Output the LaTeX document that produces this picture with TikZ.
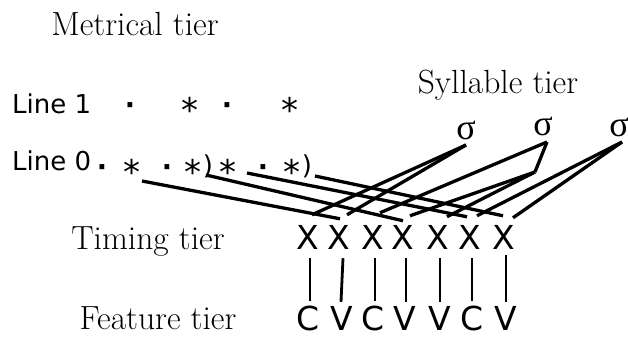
\documentclass[tikz,border=0pt]{standalone}
\usepackage{fontspec}
\newfontfamily\sansf{DejaVu Sans}
\newfontfamily\grk{Liberation Serif}
\usetikzlibrary{calc}
\begin{document}
\begin{tikzpicture}[x=1pt,y=-1pt,
  lbl/.style={inner sep=0pt, anchor=base, font=\fontsize{33.5}{40}\selectfont},
  gl/.style={inner sep=0pt, font=\sansf\fontsize{26}{30}\selectfont},
  pnt/.style={inner sep=0pt, anchor=base, font=\sansf\bfseries\fontsize{27}{30}\selectfont},
  astr/.style={inner sep=0pt, anchor=base, font=\sansf\fontsize{34}{38}\selectfont},
  seg/.style={inner sep=0pt, font=\sansf\fontsize{33}{38}\selectfont},
  sig/.style={inner sep=0pt, font=\grk\fontsize{36}{40}\selectfont},
  link/.style={line width=3.3pt},
  bar/.style={line width=2.8pt}]
\useasboundingbox (0,0) rectangle (628,337);
% tier labels
\node[lbl] (met) at (135,36) {Metrical tier};
\node[lbl] (syl) at (498,93) {Syllable tier};
\node[lbl] (tim) at (148,249) {Timing tier};
\node[lbl] (fea) at (158,329) {Feature tier};
% metrical grid
\node[gl, anchor=base west] (l1) at (12,113) {Line 1};
\node[gl, anchor=base west] (l0) at (12,170) {Line 0};
\node[pnt] (d11) at (130,114) {·};
\node[astr] (s11) at (190,122) {*};
\node[pnt] (d12) at (227,114) {·};
\node[astr] (s12) at (290,122) {*};
\node[pnt] (d01) at (102,176) {·};
\node[astr] (s01) at (132,184) {*};
\node[pnt] (d02) at (167,176) {·};
\node[astr] (s02) at (193,184) {*};
\node[gl, anchor=base] (p01) at (208,174) {)};
\node[astr] (s03) at (228,184) {*};
\node[pnt] (d03) at (263,176) {·};
\node[astr] (s04) at (292,184) {*};
\node[gl, anchor=base] (p02) at (307,174) {)};
% syllables
\node[sig] (sg1) at (466,130) {σ};
\node[sig] (sg2) at (543,126) {σ};
\node[sig] (sg3) at (619,127) {σ};
% timing slots
\node[seg] (x1) at (308,237) {X};
\node[seg] (x2) at (339,237) {X};
\node[seg] (x3) at (373,237) {X};
\node[seg] (x4) at (403,237) {X};
\node[seg] (x5) at (438,237) {X};
\node[seg] (x6) at (470,237) {X};
\node[seg] (x7) at (504,237) {X};
% features
\node[seg] (f1) at (308,318) {C};
\node[seg] (f2) at (342,318) {V};
\node[seg] (f3) at (373,318) {C};
\node[seg] (f4) at (405,318) {V};
\node[seg] (f5) at (440,318) {V};
\node[seg] (f6) at (472,318) {C};
\node[seg] (f7) at (506,318) {V};
% association bars
\draw[bar] ($(x1.south)+(2,9)$) -- ($(f1.north)+(2,-4)$);
\draw[bar] ($(x2.south)+(4,9)$) -- ($(f2.north)+(-1,-4)$);
\draw[bar] ($(x3.south)+(2,9)$) -- ($(f3.north)+(2,-4)$);
\draw[bar] ($(x4.south)+(3,9)$) -- ($(f4.north)+(1,-4)$);
\draw[bar] ($(x5.south)+(2,9)$) -- ($(f5.north)+(0,-4)$);
\draw[bar] ($(x6.south)+(2,9)$) -- ($(f6.north)+(0,-4)$);
\draw[bar] ($(x7.south)+(2,6)$) -- ($(f7.north)+(0,-4)$);
% free ends
\coordinate (a1) at ($(sg1.center)+(0,15)$);
\coordinate (a2) at ($(sg2.center)+(4,16)$);
\coordinate (k2) at ($(sg2.center)+(-8,46)$);
\coordinate (a3) at ($(sg3.center)+(3,15)$);
\coordinate (t1) at ($(x1.north)+(4,-10)$);
\coordinate (t2) at ($(x2.north)+(8,-10)$);
\coordinate (t3) at ($(x3.north)+(7,-12)$);
\coordinate (t4) at ($(x4.north)+(7,-9)$);
\coordinate (t5) at ($(x5.north)+(9,-8)$);
\coordinate (t6) at ($(x6.north)+(7,-9)$);
\coordinate (t7) at ($(x7.north)+(9,-7)$);
\coordinate (m2) at ($(x2.north)+(1,-6)$);
\coordinate (m4) at ($(x4.north)+(0,-4)$);
\coordinate (m6) at ($(x6.north)+(-3,-8)$);
\coordinate (m7) at ($(x7.north)+(-1,-9)$);
\coordinate (b1) at ($(s01.base)+(10,-3)$);
\coordinate (b2) at ($(p01.base)+(-2,1)$);
\coordinate (b3) at ($(s03.base)+(19,-11)$);
\coordinate (b4) at ($(p02.base)+(8,2)$);
% syllable links
\draw[link] (a1) -- (t1);
\draw[link] (a1) -- (t2);
\draw[link] (a2) -- (t3);
\draw[link] (a2) -- (k2);
\draw[link] (k2) -- (t4);
\draw[link] (k2) -- (t5);
\draw[link] (a3) -- (t6);
\draw[link] (a3) -- (t7);
% metrical links
\draw[link] (b1) -- (m2);
\draw[link] (b2) -- (m4);
\draw[link] (b3) -- (m6);
\draw[link] (b4) -- (m7);
\end{tikzpicture}
\end{document}
